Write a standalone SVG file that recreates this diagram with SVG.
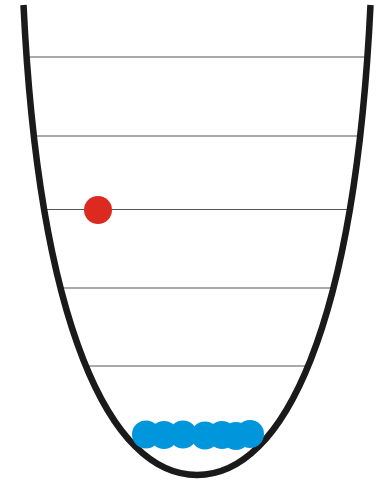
<svg xmlns="http://www.w3.org/2000/svg" width="376" height="483" viewBox="0 0 376 483">
<style>
.level{stroke:#555;stroke-width:1.2;fill:none}
.well{stroke:#1a1a1a;stroke-width:6.5;fill:none;stroke-linejoin:round}
.hot{fill:#dc2a20}
.cold{fill:#0096dc}
</style>
<rect width="376" height="483" fill="#fff"/>
<g id="levels">
<line class="level" x1="26" y1="57" x2="368" y2="57"/>
<line class="level" x1="31" y1="136" x2="363" y2="136"/>
<line class="level" x1="42" y1="209.5" x2="352" y2="209.5"/>
<line class="level" x1="58" y1="288" x2="336" y2="288"/>
<line class="level" x1="86" y1="366" x2="308" y2="366"/>
</g>
<g id="well">
<path class="well" d="M23.5,5 C39,325 110,475 197,475 C284,475 355,325 370.5,5"/>
</g>
<g id="particle-hot">
<circle class="hot" cx="98" cy="210" r="14"/>
</g>
<g id="particles-cold">
<circle class="cold" cx="146" cy="434.5" r="14"/>
<circle class="cold" cx="164" cy="435" r="14"/>
<circle class="cold" cx="183" cy="434.5" r="14"/>
<circle class="cold" cx="205" cy="435.5" r="14"/>
<circle class="cold" cx="222" cy="435" r="14"/>
<circle class="cold" cx="236" cy="436" r="14"/>
<circle class="cold" cx="250" cy="434" r="14"/>
</g>
</svg>
